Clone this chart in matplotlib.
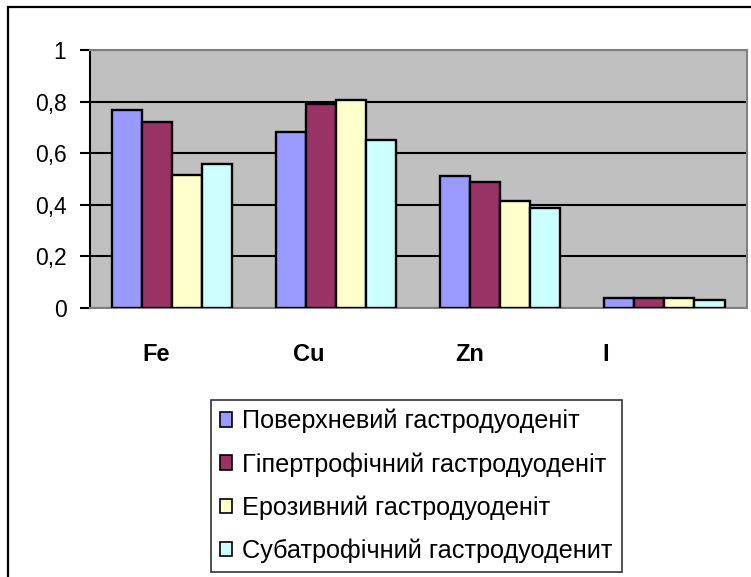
import matplotlib
matplotlib.use("Agg")
import matplotlib.pyplot as plt
import numpy as np
from matplotlib.patches import Rectangle
from matplotlib.ticker import FuncFormatter

plt.rcParams['font.family'] = ['Liberation Sans', 'DejaVu Sans']

# Data
categories = ["Fe", "Cu", "Zn", "I"]
series_names = [
    "Поверхневий гастродуоденіт",
    "Гіпертрофічний гастродуоденіт",
    "Ерозивний гастродуоденіт",
    "Субатрофічний гастродуоденит",
]
poverkhnevyi = [0.767, 0.68, 0.511, 0.038]
hipertrofichnyi = [0.72, 0.789, 0.487, 0.038]
erozyvnyi = [0.516, 0.805, 0.415, 0.038]
subatrofichnyi = [0.558, 0.65, 0.386, 0.03]
y_ticks = [0, 0.2, 0.4, 0.6, 0.8, 1.0]

series = [poverkhnevyi, hipertrofichnyi, erozyvnyi, subatrofichnyi]
colors = ["#9999FF", "#993366", "#FFFFCC", "#CCFFFF"]

W, H = 751, 577
fig = plt.figure(figsize=(W / 100, H / 100), dpi=100)
fig.patch.set_facecolor("white")

# outer chart frame
fig.patches.append(Rectangle((8 / W, -0.01), 1.1, 1 - 7 / H + 0.01,
                             transform=fig.transFigure, fill=False,
                             edgecolor="black", linewidth=1.6))

ax = fig.add_axes([90 / W, (H - 307.7) / H, (746.5 - 90) / W, (307.7 - 50) / H])
ax.set_facecolor("#C0C0C0")

x = np.arange(len(categories))
bw = 0.183
handles = []
for i, (vals, c) in enumerate(zip(series, colors)):
    b = ax.bar(x + (i - 1.5) * bw, vals, width=bw, color=c,
               edgecolor="black", linewidth=1.7, zorder=3)
    handles.append(b)

ax.set_xlim(-0.5, len(categories) - 0.5)
ax.set_ylim(0, 1)
ax.set_yticks(y_ticks)
ax.yaxis.set_major_formatter(FuncFormatter(lambda v, p: ("%g" % v).replace(".", ",")))
ax.yaxis.grid(True, color="black", linewidth=1.5, zorder=1)
ax.set_axisbelow(True)
ax.tick_params(axis="y", direction="out", length=7, width=1.5, pad=10,
               labelsize=16.5, colors="black")
ax.set_xticks([])

for s in ["top", "right", "bottom"]:
    ax.spines[s].set_color("#808080")
    ax.spines[s].set_linewidth(1.5)
ax.spines["left"].set_color("black")
ax.spines["left"].set_linewidth(1.5)

# category labels under the groups
label_shift = [-0.10, -0.165, -0.185, -0.36]
for xi, name, sh in zip(x, categories, label_shift):
    ax.text(xi + sh, -0.18, name, ha="center", va="center", fontsize=17,
            fontweight="bold", transform=ax.get_xaxis_transform())

leg = fig.legend(handles, series_names, loc="upper left",
                 bbox_to_anchor=(210.7 / W, 1 - 400 / H),
                 fontsize=18.2, frameon=True, fancybox=False, shadow=False,
                 handlelength=0.5, handleheight=0.5, handletextpad=0.4,
                 labelspacing=0.74, borderpad=0.35, borderaxespad=0)
leg.get_frame().set_edgecolor("black")
leg.get_frame().set_linewidth(1.2)
for p in leg.get_patches():
    p.set_linewidth(1.2)

fig.savefig("out.png", dpi=100)
